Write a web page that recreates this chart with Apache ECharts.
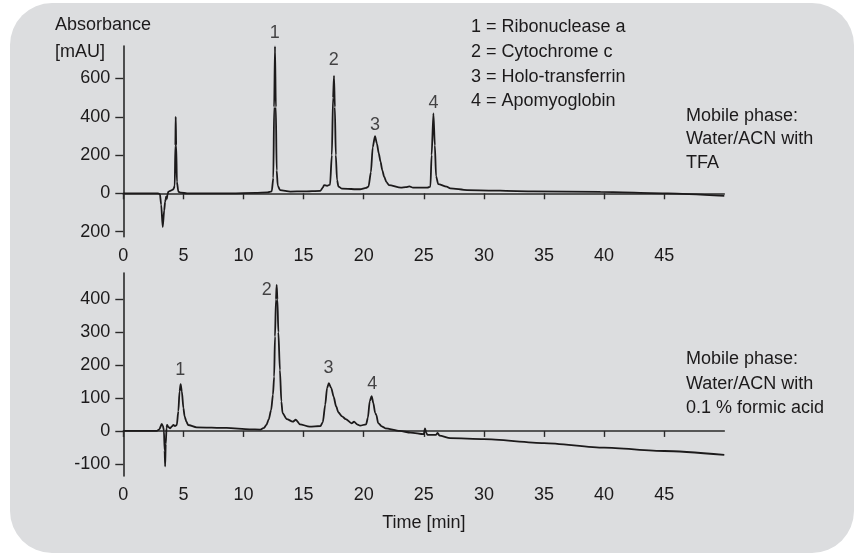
<!DOCTYPE html>
<html>
<head>
<meta charset="utf-8">
<script src="https://cdn.jsdelivr.net/npm/echarts@6/dist/echarts.min.js"></script>
<style>
  html, body { margin: 0; padding: 0; background: #ffffff; }
  #panel { position: absolute; left: 10px; top: 3px; width: 844px; height: 550px; background: #dcdddf; border-radius: 42px; }
  #chart { position: absolute; left: 0; top: 0; width: 854px; height: 553px; }
</style>
</head>
<body>
<div id="panel"></div>
<div id="chart"></div>
<script>
// chromatogram with TFA in the mobile phase: [time min, absorbance mAU]
var tfaTrace = [
  [0,0],[1,0],[2,0],[2.9,0],[3.05,-5],[3.15,-60],[3.28,-177],[3.4,-90],[3.48,-44],[3.53,-30],[3.56,-17],
  [3.62,-30],[3.68,-5],[3.75,8],[4.0,15],[4.17,21],[4.28,40],[4.33,250],[4.36,400],[4.4,250],[4.46,60],
  [4.58,8],[4.8,3],[5.3,0],[7,0],[9,0],[11,2],[12.0,5],[12.35,10],[12.48,80],[12.55,450],[12.62,768],
  [12.69,450],[12.76,120],[12.85,40],[13.04,17],[13.9,9],[15,10],[16.4,13],[16.6,30],[16.7,43],[16.95,39],
  [17.2,45],[17.35,200],[17.45,500],[17.53,614],[17.6,450],[17.68,200],[17.78,70],[17.9,35],[18.2,24],
  [19.7,21],[20.2,28],[20.4,35],[20.6,110],[20.75,240],[20.94,299],[21.1,260],[21.25,210],[21.4,165],
  [21.55,120],[21.7,87],[21.9,58],[22.1,43],[23.1,30],[23.5,32],[23.8,36],[24.1,30],[25.3,30],[25.55,35],
  [25.65,200],[25.8,418],[25.92,250],[26.02,90],[26.2,48],[26.9,35],[27.2,26],[28.6,17],[34.1,10],
  [39.7,7],[45.3,0],[50,-14]
];
// chromatogram with 0.1 % formic acid
var formicTrace = [
  [0,0],[1,0],[2,0],[2.78,0],[3.0,5],[3.2,21],[3.3,15],[3.38,0],[3.44,-60],[3.48,-108],[3.53,-40],[3.6,10],
  [3.64,18],[3.75,12],[3.9,8],[4.05,14],[4.17,18],[4.3,15],[4.45,18],[4.58,60],[4.68,120],[4.77,142],
  [4.87,120],[5.0,70],[5.1,44],[5.25,28],[5.4,18],[6.1,11],[8.6,9],[10.5,5],[11.4,4],[11.7,9],[11.9,18],
  [12.1,35],[12.3,64],[12.45,110],[12.55,165],[12.62,287],[12.7,400],[12.76,444],[12.82,400],[12.9,300],
  [13.03,185],[13.15,90],[13.25,54],[13.6,36],[14.1,28],[14.35,34],[14.7,20],[15.5,13],[16.4,15],[16.6,27],
  [16.8,80],[16.95,130],[17.1,145],[17.3,130],[17.5,104],[17.7,75],[17.9,56],[18.2,44],[18.5,36],[19.0,23],
  [19.2,28],[19.45,20],[19.7,16],[20.2,20],[20.35,40],[20.5,90],[20.66,106],[20.8,85],[20.95,55],[21.05,49],
  [21.2,24],[21.5,14],[21.8,8],[23.0,0],[23.9,-5],[25.0,-10],[25.1,8],[25.2,-5],[25.3,-12],[26.0,-12],
  [26.15,-6],[26.3,-14],[27.2,-22],[30,-25],[35,-37],[40,-51],[45,-61],[50,-73]
];
// peak numbers [time, height, text]
var tfaPeakLabels = [[12.6,837,'1'],[17.5,698,'2'],[20.94,357,'3'],[25.8,471,'4']];
var formicPeakLabels = [[4.73,185,'1'],[11.93,429,'2'],[17.08,191,'3'],[20.72,143,'4']];

var timeTicks = [0,5,10,15,20,25,30,35,40,45];
var tfaTicks = [-200,0,200,400,600];
var formicTicks = [-100,0,100,200,300,400];

var peakNames = ['1 = Ribonuclease a','2 = Cytochrome c','3 = Holo-transferrin','4 = Apomyoglobin'];
var tfaPhase = ['Mobile phase:','Water/ACN with','TFA'];
var formicPhase = ['Mobile phase:','Water/ACN with','0.1 % formic acid'];

var FONT = "'Liberation Sans', Arial, sans-serif";
var INK = '#1c1a1b';

function xAxisOf(idx, name) {
  return {
    type: 'value', gridIndex: idx, min: 0, max: 50,
    name: name || '', nameLocation: 'middle', nameGap: 38,
    nameTextStyle: { fontFamily: FONT, fontSize: 18, color: INK },
    axisLine: { show: true, lineStyle: { color: '#2a2a2a', width: 1.6 } },
    axisTick: { show: true, length: 6, customValues: timeTicks, lineStyle: { color: '#2a2a2a', width: 1.4 } },
    axisLabel: { customValues: timeTicks, fontFamily: FONT, fontSize: 18, color: INK, margin: 10 },
    splitLine: { show: false }
  };
}
function yAxisOf(idx, min, max, ticks, fmt) {
  return {
    type: 'value', gridIndex: idx, min: min, max: max,
    axisLine: { show: true, lineStyle: { color: '#2a2a2a', width: 1.6 } },
    axisTick: { show: true, length: 8, customValues: ticks, lineStyle: { color: '#2a2a2a', width: 1.4 } },
    axisLabel: { customValues: ticks, fontFamily: FONT, fontSize: 18, color: INK, margin: 13, formatter: fmt },
    splitLine: { show: false }
  };
}
function traceSeries(idx, data) {
  return {
    type: 'line', xAxisIndex: idx, yAxisIndex: idx, data: data,
    showSymbol: false, smooth: 0.25, smoothMonotone: 'x', silent: true,
    lineStyle: { color: INK, width: 1.8 }
  };
}
function labelSeries(idx, data) {
  return {
    type: 'scatter', xAxisIndex: idx, yAxisIndex: idx, data: data, clip: false, silent: true,
    symbolSize: 1, itemStyle: { color: 'transparent' },
    label: { show: true, position: 'inside', formatter: function (p) { return p.data[2]; },
      fontFamily: FONT, fontSize: 18, color: INK }
  };
}
function textBlock(lines, left, top, lh) {
  return {
    text: lines.join('\n'), left: left, top: top, padding: 0,
    textStyle: { fontFamily: FONT, fontSize: 18, fontWeight: 'normal', color: INK, lineHeight: lh }
  };
}

var chart = echarts.init(document.getElementById('chart'), null, { renderer: 'canvas' });
chart.setOption({
  backgroundColor: 'transparent',
  animation: false,
  title: [
    textBlock(['Absorbance', '[mAU]'], 55, 12, 27),
    textBlock(peakNames, 471, 15, 24.7),
    textBlock(tfaPhase, 686, 104, 23.5),
    textBlock(formicPhase, 686, 347, 24.5)
  ],
  grid: [
    { left: 123.3, right: 129.7, top: 46, height: 190.7 },
    { left: 123.3, right: 129.7, top: 273, height: 203 }
  ],
  xAxis: [xAxisOf(0), xAxisOf(1, 'Time [min]')],
  yAxis: [
    yAxisOf(0, -227, 770, tfaTicks, function (v) { return v < 0 ? String(-v) : String(v); }),
    yAxisOf(1, -137, 480, formicTicks)
  ],
  series: [
    traceSeries(0, tfaTrace),
    traceSeries(1, formicTrace),
    labelSeries(0, tfaPeakLabels),
    labelSeries(1, formicPeakLabels)
  ]
});
</script>
</body>
</html>
